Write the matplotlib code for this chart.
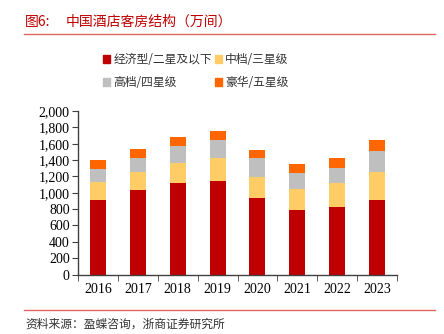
import matplotlib
matplotlib.use("Agg")
import matplotlib.pyplot as plt
from matplotlib.lines import Line2D
import numpy as np

years = ["2016", "2017", "2018", "2019", "2020", "2021", "2022", "2023"]
economy = [906, 1028, 1118, 1142, 935, 784, 821, 906]
midscale = [220, 220, 252, 285, 256, 257, 293, 351]
upscale = [167, 179, 199, 215, 228, 199, 191, 256]
luxury = [110, 114, 118, 115, 106, 106, 114, 134]
series_names = ["经济型/二星及以下", "中档/三星级", "高档/四星级", "豪华/五星级"]
colors = ["#C00000", "#FFCC66", "#BFBFBF", "#FF6600"]

cjk = ["Noto Sans CJK SC", "DejaVu Sans"]
serif = ["Liberation Serif", "DejaVu Serif"]

fig = plt.figure(figsize=(4.44, 3.34), dpi=100)
ax = fig.add_axes([78/444, 1-274.5/334, (397-78)/444, (274.5-111)/334])

x = np.arange(len(years))
data = [economy, midscale, upscale, luxury]
bottom = np.zeros(len(years))
for vals, c, n in zip(data, colors, series_names):
    ax.bar(x, vals, 0.4, bottom=bottom, color=c, label=n, edgecolor="none")
    bottom += np.array(vals)

ax.set_xlim(-0.5, len(years) - 0.5)
ax.set_ylim(0, 2000)
ax.set_yticks(np.arange(0, 2001, 200))
ax.set_yticklabels([f"{v:,}" for v in range(0, 2001, 200)], family=serif, fontsize=10)
ax.set_xticks(x)
ax.set_xticklabels(years, family=serif, fontsize=10)
ax.set_xticks(np.arange(-0.5, len(years)), minor=True)
ax.tick_params(axis="x", which="major", length=0, pad=6)
ax.tick_params(axis="x", which="minor", length=4, color="#404040", direction="out")
ax.tick_params(axis="y", length=4, color="#404040", direction="out", pad=2)
for s in ["top", "right"]:
    ax.spines[s].set_visible(False)
for s in ["left", "bottom"]:
    ax.spines[s].set_color("#404040")
    ax.spines[s].set_linewidth(1.0)

handles = [plt.Rectangle((0, 0), 1, 1, color=c) for c in colors]
order = [0, 2, 1, 3]
fig.legend([handles[i] for i in order], [series_names[i] for i in order],
           ncol=2, loc="upper left", bbox_to_anchor=(103/444, 1-53/334),
           frameon=False, prop={"family": cjk, "size": 8.5},
           handlelength=0.6, handleheight=0.6, handletextpad=0.3,
           columnspacing=0.2, labelspacing=0.85, borderpad=0, borderaxespad=0,
           labelcolor="#333333")

fig.text(25/444, 1-22/334, "图6:", family=cjk, fontsize=10,
         color="#C00000", va="center", ha="left")
fig.text(66/444, 1-22/334, "中国酒店客房结构（万间）", family=cjk, fontsize=10,
         color="#C00000", va="center", ha="left")
fig.add_artist(Line2D([24/444, 435/444], [1-34/334, 1-34/334], color="#E06666", lw=1.0))
fig.add_artist(Line2D([24/444, 435/444], [1-310/334, 1-310/334], color="#E06666", lw=1.0))
fig.text(25/444, 1-324/334, "资料来源：盈蝶咨询，浙商证券研究所", family=cjk, fontsize=8.5,
         color="#333333", va="center", ha="left")

fig.savefig("out.png", dpi=100)
